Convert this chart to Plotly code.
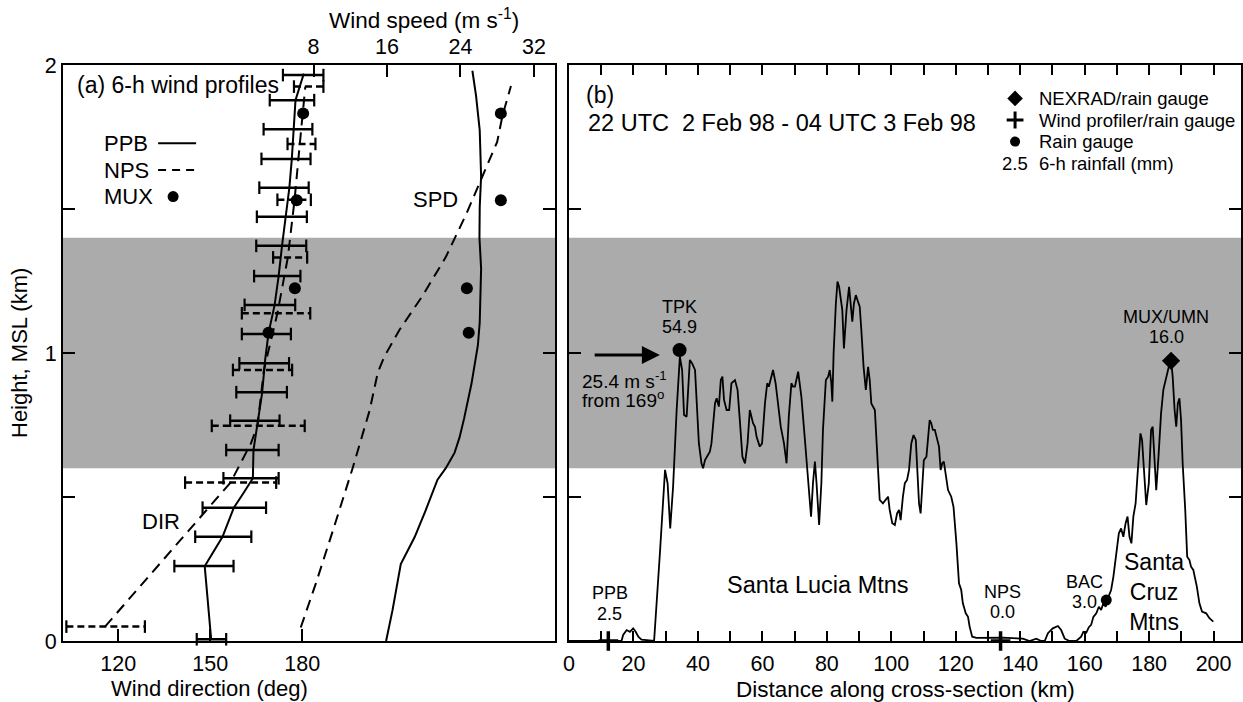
import plotly.graph_objects as go

W, H = 1243, 702
FONT = "Liberation Sans, Arial, Helvetica, sans-serif"
BAND = "#ababab"

# ---------------- data: (a) 6-h wind profiles ----------------
band_lo, band_hi = 0.6, 1.4

ppb_dir_h = [0.006, 0.26, 0.362, 0.463, 0.513, 0.565, 0.663, 0.779, 0.86, 0.976, 1.069, 1.167,
             1.267, 1.372, 1.473, 1.574, 1.674, 1.777, 1.878, 1.97]
ppb_dir = [150.3, 148.2, 154.0, 157.7, 160.8, 163.9, 164.1, 165.8, 166.9, 167.9, 169.0, 171.0,
           172.3, 173.4, 174.6, 175.8, 176.6, 177.1, 177.8, 180.5]
ppb_bar_h = [0.006, 0.26, 0.362, 0.463, 0.565, 0.663, 0.765, 0.864, 0.964, 1.066, 1.167, 1.267,
             1.372, 1.473, 1.574, 1.674, 1.777, 1.878, 1.965]
ppb_bar_lo = [145.6, 138.3, 145.1, 147.5, 154.3, 155.2, 156.5, 158.5, 159.5, 160.3, 161.2, 164.3,
              165.0, 165.2, 166.0, 166.7, 167.4, 169.4, 173.7]
ppb_bar_hi = [155.2, 157.6, 163.4, 168.2, 172.3, 172.3, 172.6, 175.0, 175.7, 176.3, 177.7, 179.4,
              181.3, 181.5, 182.1, 182.7, 183.3, 183.9, 186.9]

nps_dir_h = [0.05, 0.55, 0.687, 0.747, 0.941, 1.138, 1.332, 1.532, 1.726, 1.925]
nps_dir = [115.7, 156.6, 163.3, 165.4, 167.5, 171.9, 175.3, 177.5, 179.2, 181.0]
nps_bar_h = [0.05, 0.55, 0.747, 0.941, 1.138, 1.332, 1.532, 1.726, 1.925]
nps_bar_lo = [103.1, 141.8, 150.5, 157.4, 160.3, 170.5, 171.9, 175.2, 177.3]
nps_bar_hi = [128.7, 171.5, 180.8, 176.7, 182.6, 181.6, 182.8, 184.3, 186.9]

mux_h = [1.07, 1.225, 1.53, 1.832]
mux_dir = [169.0, 177.6, 178.2, 180.3]
mux_spd = [24.9, 24.7, 28.4, 28.4]

ppb_spd_h = [0.0, 0.107, 0.267, 0.36, 0.453, 0.56, 0.60, 0.653, 0.707, 0.773, 0.893, 1.027,
             1.107, 1.293, 1.40, 1.507, 1.613, 1.773, 1.893, 1.98]
ppb_spd = [15.9, 16.6, 17.5, 19.0, 20.2, 21.5, 22.4, 23.35, 23.9, 24.4, 25.2, 25.9,
           26.1, 26.25, 26.07, 26.1, 26.25, 26.1, 25.7, 25.3]
nps_spd_h = [0.047, 0.2, 0.413, 0.6, 0.8, 0.933, 0.987, 1.08, 1.2, 1.333, 1.48, 1.6, 1.733, 1.827, 1.927]
nps_spd = [6.6, 8.25, 10.4, 12.25, 14.1, 15.0, 15.7, 17.35, 19.9, 22.4, 24.6, 26.25, 28.0, 28.6, 29.5]

dir_ticks = [120, 150, 180]
spd_ticks = [8, 16, 24, 32]
height_ticks = [0, 0.5, 1, 1.5, 2]
height_labels = ["0", "", "1", "", "2"]

# ---------------- data: (b) terrain cross-section ----------------
terrain_km = [0, 16.3, 16.8, 17.9, 18.9, 19.9, 20.7, 21.5, 22.5, 26.4, 28.2, 29.8, 30.6, 31.4, 32.3, 33.4,
              34.4, 35.1, 35.7, 36.5, 37.5, 38.2, 39.1, 39.6, 40.3, 41.1, 41.6, 42.2, 43.0, 43.7, 44.2,
              45.3, 45.8, 46.5, 47.1, 47.6, 48.1, 48.9, 49.7, 50.4, 51.5, 52.3, 53.0, 53.8, 54.6, 55.4,
              56.1, 57.1, 57.7, 58.2, 59.2, 59.9, 60.8, 61.5, 62.0, 62.6, 63.3, 64.1, 64.9, 65.7, 66.7,
              67.5, 68.2, 69.0, 69.5, 70.1, 71.1, 72.1, 73.2, 73.9, 74.5, 75.1, 75.7, 76.3, 76.8, 77.6,
              78.3, 78.8, 79.7, 80.4, 80.9, 81.4, 81.7, 82.1, 82.8, 83.3, 83.8, 84.3, 84.8, 85.3, 86.1,
              86.9, 87.4, 87.9, 88.4, 89.0, 89.5, 90.2, 90.7, 91.4, 92.1, 92.8, 93.3, 93.8, 94.9, 95.4,
              95.9, 96.4, 97.4, 98.3, 99.0, 99.5, 100.3, 101.1, 101.8, 102.4, 102.9, 103.6, 104.2, 104.9,
              105.5, 106.2, 106.9, 107.6, 108.0, 108.6, 109.1, 109.6, 110.1, 110.9, 111.4, 111.9, 112.4,
              112.9, 113.5, 114.2, 114.8, 115.3, 115.8, 116.3, 116.9, 117.6, 118.6, 119.3, 120.2, 121.0,
              121.7, 122.2, 123.1, 123.8, 124.3, 125.1, 126.4, 130.5, 134.6, 137.5, 139.8, 140.8, 142.9,
              145.0, 146.5, 147.6, 148.6, 150.1, 151.7, 152.7, 153.8, 155.3, 157.4, 158.9, 159.6, 160.5,
              161.3, 162.0, 162.7, 163.6, 164.4, 165.1, 165.8, 166.5, 167.2, 168.2, 168.9, 169.8, 170.6,
              171.3, 172.0, 172.7, 173.3, 173.9, 174.5, 175.1, 175.8, 176.5, 177.3, 177.8, 178.4, 179.1,
              179.9, 180.6, 181.1, 181.7, 182.2, 182.9, 183.7, 184.4, 185.3, 186.1, 186.8, 187.3, 187.9,
              188.4, 188.9, 189.4, 189.9, 190.4, 191.2, 191.8, 192.5, 193.0, 193.7, 194.4, 194.8, 195.6,
              196.4, 197.7, 198.7, 199.9]
terrain_h = [0, 0, 0.021, 0.038, 0.032, 0.044, 0.032, 0.015, 0.005, 0, 0.304, 0.594, 0.547, 0.391, 0.536, 0.802,
             0.987, 0.941, 0.785, 0.779, 0.976, 0.964, 0.941, 0.848, 0.686, 0.617, 0.6, 0.628, 0.646, 0.657, 0.686,
             0.825, 0.843, 0.814, 0.906, 0.918, 0.837, 0.802, 0.802, 0.895, 0.906, 0.872, 0.767, 0.64, 0.617, 0.686,
             0.802, 0.756, 0.744, 0.709, 0.675, 0.686, 0.825, 0.895, 0.883, 0.906, 0.941, 0.895, 0.825, 0.744, 0.686,
             0.617, 0.779, 0.895, 0.883, 0.883, 0.935, 0.848, 0.698, 0.594, 0.536, 0.432, 0.548, 0.623, 0.548, 0.403,
             0.548, 0.733, 0.906, 0.918, 0.941, 0.895, 0.831, 0.999, 1.172, 1.248, 1.23, 1.196, 1.149, 1.016, 1.149,
             1.23, 1.161, 1.109, 1.172, 1.201, 1.184, 1.161, 1.08, 0.952, 0.872, 0.952, 0.906, 0.825, 0.802, 0.709,
             0.594, 0.49, 0.478, 0.49, 0.501, 0.455, 0.409, 0.403, 0.443, 0.455, 0.42, 0.501, 0.548, 0.559,
             0.594, 0.686, 0.715, 0.698, 0.594, 0.478, 0.443, 0.536, 0.628, 0.64, 0.721, 0.767, 0.756,
             0.733, 0.733, 0.698, 0.675, 0.594, 0.617, 0.623, 0.582, 0.524, 0.501, 0.466, 0.339, 0.2,
             0.177, 0.131, 0.096, 0.084, 0.05, 0.015, 0.011, 0.012, 0.012, 0.01, 0.008, 0.008, 0,
             0.008, 0, 0, 0.027, 0.044, 0.052, 0.038, 0.008, 0, 0, 0.015, 0.032, 0.029,
             0.048, 0.056, 0.084, 0.096, 0.119, 0.108, 0.131, 0.119, 0.148, 0.177, 0.223, 0.304, 0.374,
             0.391, 0.362, 0.409, 0.432, 0.362, 0.339, 0.432, 0.478, 0.594, 0.721, 0.698, 0.594, 0.472,
             0.548, 0.733, 0.744, 0.64, 0.524, 0.64, 0.791, 0.872, 0.918, 0.952, 0.975, 0.918, 0.802,
             0.744, 0.825, 0.843, 0.767, 0.617, 0.455, 0.293, 0.281, 0.258, 0.247, 0.212, 0.189, 0.131,
             0.102, 0.096, 0.079, 0.067]

stations = ["PPB", "TPK", "NPS", "BAC", "MUX/UMN"]
station_km = [12.2, 34.3, 133.9, 166.7, 186.8]
station_h = [0.0, 1.01, 0.0, 0.142, 0.973]
station_rain = ["2.5", "54.9", "0.0", "3.0", "16.0"]
station_kind = ["profiler", "gauge", "profiler", "gauge", "nexrad"]

dist_ticks = list(range(0, 201, 10))
dist_labels = [str(v) if v % 20 == 0 else "" for v in dist_ticks]

# ---------------- layout constants ----------------
L_X = [63 / W, 555 / W]
R_X = [569 / W, 1241 / W]
Y_D = [1 - 641 / H, 1 - 65 / H]
DIR_RANGE = [102.0, 262.4]
SPD_RANGE = [-19.3, 34.3]
KM_RANGE = [0, 208.5]

def px(x):
    return x / W

def py(y):
    return 1 - y / H

fig = go.Figure()

def segments(lo, hi, h):
    xs, ys = [], []
    for a, b, c in zip(lo, hi, h):
        xs += [a, b, None]
        ys += [c, c, None]
    return xs, ys

cap = dict(symbol="line-ns", size=9, line=dict(width=2.2, color="black"), color="black")

# PPB direction
fig.add_trace(go.Scatter(x=ppb_dir, y=ppb_dir_h, mode="lines", line=dict(color="black", width=2),
                         xaxis="x", yaxis="y", hoverinfo="skip"))
bx, by = segments(ppb_bar_lo, ppb_bar_hi, ppb_bar_h)
fig.add_trace(go.Scatter(x=bx, y=by, mode="lines+markers", line=dict(color="black", width=2.5),
                         marker=cap, xaxis="x", yaxis="y", hoverinfo="skip", cliponaxis=False))
# NPS direction
fig.add_trace(go.Scatter(x=nps_dir, y=nps_dir_h, mode="lines", line=dict(color="black", width=2, dash="11px,7px"),
                         xaxis="x", yaxis="y", hoverinfo="skip"))
bx, by = segments(nps_bar_lo, nps_bar_hi, nps_bar_h)
fig.add_trace(go.Scatter(x=bx, y=by, mode="lines+markers", line=dict(color="black", width=2.5, dash="7px,4px"),
                         marker=cap, xaxis="x", yaxis="y", hoverinfo="skip", cliponaxis=False))
# MUX direction
fig.add_trace(go.Scatter(x=mux_dir, y=mux_h, mode="markers", marker=dict(color="black", size=12),
                         xaxis="x", yaxis="y", hoverinfo="skip"))
# speeds
fig.add_trace(go.Scatter(x=ppb_spd, y=ppb_spd_h, mode="lines", line=dict(color="black", width=2),
                         xaxis="x2", yaxis="y", hoverinfo="skip"))
fig.add_trace(go.Scatter(x=nps_spd, y=nps_spd_h, mode="lines", line=dict(color="black", width=2, dash="11px,7px"),
                         xaxis="x2", yaxis="y", hoverinfo="skip"))
fig.add_trace(go.Scatter(x=mux_spd, y=mux_h, mode="markers", marker=dict(color="black", size=12),
                         xaxis="x2", yaxis="y", hoverinfo="skip"))

# left legend keys (PPB solid, NPS dashed, MUX dot)
LEG_X0, LEG_X1, LEG_DOT = 133.0, 145.4, 137.9
LEG_Y = [1.728, 1.635, 1.543]
fig.add_trace(go.Scatter(x=[LEG_X0, LEG_X1], y=[LEG_Y[0]] * 2, mode="lines", line=dict(color="black", width=2),
                         xaxis="x", yaxis="y", hoverinfo="skip"))
fig.add_trace(go.Scatter(x=[LEG_X0, LEG_X1], y=[LEG_Y[1]] * 2, mode="lines",
                         line=dict(color="black", width=2, dash="8px,6px"), xaxis="x", yaxis="y", hoverinfo="skip"))
fig.add_trace(go.Scatter(x=[LEG_DOT], y=[LEG_Y[2]], mode="markers", marker=dict(color="black", size=11),
                         xaxis="x", yaxis="y", hoverinfo="skip"))

# terrain
fig.add_trace(go.Scatter(x=terrain_km, y=terrain_h, mode="lines", line=dict(color="black", width=1.8),
                         xaxis="x3", yaxis="y3", hoverinfo="skip"))
sym = {"profiler": "cross-thin", "gauge": "circle", "nexrad": "diamond"}
for k, h, kind in zip(station_km, station_h, station_kind):
    size = {"profiler": 14, "gauge": 14, "nexrad": 14}[kind]
    if kind == "gauge" and h < 0.5:
        size = 11
    fig.add_trace(go.Scatter(x=[k], y=[h], mode="markers",
                             marker=dict(symbol=sym[kind], size=size, color="black",
                                         line=dict(width=3.5 if kind == "profiler" else 0, color="black")),
                             xaxis="x3", yaxis="y3", hoverinfo="skip", cliponaxis=False))

# right legend keys
RLEG_X, RLEG_TX = 138.4, 145.3
RLEG_Y = [1.884, 1.809, 1.734, 1.659]
for yv, kind in zip(RLEG_Y[:3], ["nexrad", "profiler", "gauge"]):
    fig.add_trace(go.Scatter(x=[RLEG_X], y=[yv], mode="markers",
                             marker=dict(symbol=sym[kind], size=12 if kind != "gauge" else 10, color="black",
                                         line=dict(width=3 if kind == "profiler" else 0, color="black")),
                             xaxis="x3", yaxis="y3", hoverinfo="skip"))

ann = []
def text(x, y, t, size=22, xref="paper", yref="paper", xanchor="center", yanchor="middle", angle=0):
    ann.append(dict(x=x, y=y, text=t, xref=xref, yref=yref, xanchor=xanchor, yanchor=yanchor,
                    showarrow=False, textangle=angle, font=dict(family=FONT, size=size, color="black")))

# axis titles
text(px(424), py(19), "Wind speed (m s<sup>-1</sup>)", size=22.5)
text(px(209), py(688), "Wind direction (deg)")
text(px(905), py(689), "Distance along cross-section (km)", size=22.5)
text(px(20), py(353), "Height, MSL (km)", angle=-90)

# panel (a) texts
text(106.0, 1.93, "(a) 6-h wind profiles", size=23, xref="x", yref="y", xanchor="left")
for lab, yv in zip(["PPB", "NPS", "MUX"], LEG_Y):
    text(114.7, yv, lab, xref="x", yref="y", xanchor="left")
text(21.3, 1.533, "SPD", xref="x2", yref="y")
text(134.0, 0.414, "DIR", xref="x", yref="y")

# panel (b) texts
text(4.7, 1.896, "(b)", size=23, xref="x3", yref="y3", xanchor="left")
text(5.3, 1.797, "22 UTC\u00a0 2 Feb 98 - 04 UTC 3 Feb 98", size=23.5, xref="x3", yref="y3", xanchor="left")
for lab, yv in zip(["NEXRAD/rain gauge", "Wind profiler/rain gauge", "Rain gauge"], RLEG_Y[:3]):
    text(RLEG_TX, yv, lab, size=18.5, xref="x3", yref="y3", xanchor="left")
text(RLEG_X, RLEG_Y[3], "2.5", size=18.5, xref="x3", yref="y3")
text(RLEG_TX, RLEG_Y[3], "6-h rainfall (mm)", size=18.5, xref="x3", yref="y3", xanchor="left")

label_pos = {"PPB": (12.7, 0.166), "TPK": (34.4, 1.161), "NPS": (134.6, 0.171),
             "BAC": (159.8, 0.206), "MUX/UMN": (185.3, 1.126)}
for s, r in zip(stations, station_rain):
    lx, ly = label_pos[s]
    text(lx, ly, s, size=18, xref="x3", yref="y3")
    text(lx, ly - 0.072, r, size=18, xref="x3", yref="y3")

text(77.3, 0.194, "Santa Lucia Mtns", size=23.5, xref="x3", yref="y3")
text(181.6, 0.171, "Santa<br>Cruz<br>Mtns", size=23, xref="x3", yref="y3")
text(17.1, 0.906, "25.4 m s<sup>-1</sup>", size=19, xref="x3", yref="y3")
text(16.8, 0.842, "from 169<sup>o</sup>", size=19, xref="x3", yref="y3")

# wind arrow (25.4 m/s from 169 deg)
ann.append(dict(x=28.2, y=0.993, ax=7.5, ay=0.993, xref="x3", yref="y3", axref="x3", ayref="y3",
                showarrow=True, arrowhead=2, arrowsize=1.2, arrowwidth=3, arrowcolor="black", text=""))

# shaded layer
for xr, yr in [("x", "y"), ("x3", "y3")]:
    fig.add_shape(type="rect", xref=f"{xr} domain", yref=yr, x0=0, x1=1, y0=band_lo, y1=band_hi,
                  fillcolor=BAND, line_width=0, layer="below")

axcommon = dict(showgrid=False, zeroline=False, showline=True, linecolor="black", linewidth=2,
                ticks="inside", tickcolor="black", tickwidth=1.5, automargin=False,
                tickfont=dict(family=FONT, size=21.5, color="black"))

fig.update_layout(
    width=W, height=H, margin=dict(l=0, r=0, t=0, b=0, pad=0, autoexpand=False),
    paper_bgcolor="white", plot_bgcolor="rgba(0,0,0,0)", showlegend=False,
    font=dict(family=FONT, size=22, color="black"),
    xaxis=dict(domain=L_X, range=DIR_RANGE, anchor="y", tickvals=dir_ticks, ticklen=12,
               ticklabelstandoff=2, **axcommon),
    xaxis2=dict(range=SPD_RANGE, overlaying="x", side="top", anchor="y", tickvals=spd_ticks,
                ticklen=12, **axcommon),
    yaxis=dict(domain=Y_D, range=[0, 2], anchor="x", tickvals=height_ticks, ticktext=height_labels,
               ticklen=12, mirror="ticks", **axcommon),
    xaxis3=dict(domain=R_X, range=KM_RANGE, anchor="y3", tickvals=dist_ticks, ticktext=dist_labels,
                ticklen=10, mirror="ticks", ticklabelstandoff=2, **axcommon),
    yaxis3=dict(domain=Y_D, range=[0, 2], anchor="x3", tickvals=[0.5, 1, 1.5], showticklabels=False,
                ticklen=12, mirror="ticks", **axcommon),
    annotations=ann,
)

fig.write_html("out.html")
